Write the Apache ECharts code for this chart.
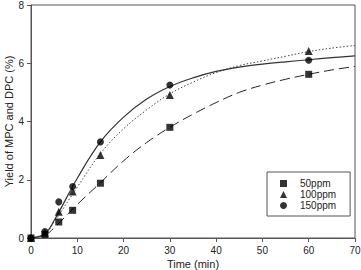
<!DOCTYPE html>
<html>
<head>
<meta charset="utf-8">
<script src="https://cdn.jsdelivr.net/npm/echarts@6/dist/echarts.min.js"></script>
<style>
  html, body { margin: 0; padding: 0; background: #fff; }
  #chart { width: 361px; height: 270px; }
</style>
</head>
<body>
<div id="chart"></div>
<script>
// measured time points (min)
var times = [0, 3, 6, 9, 15, 30, 60];
var ppm50 = [0, 0.12, 0.55, 0.95, 1.88, 3.8, 5.62];
var ppm100 = [0, 0.18, 0.9, 1.6, 2.85, 4.91, 6.42];
var ppm150 = [0, 0.22, 1.24, 1.77, 3.3, 5.25, 6.1];

// fitted curves
var fitTimes = [0, 3, 5, 10, 15, 20, 25, 30, 35, 40, 45, 50, 55, 60, 65, 70];
var fit50 = [0, 0.1, 0.35, 1.15, 1.9, 2.65, 3.28, 3.8, 4.25, 4.65, 5.0, 5.25, 5.45, 5.62, 5.77, 5.89];
var fit100 = [0, 0.15, 0.55, 1.75, 2.9, 3.75, 4.4, 4.95, 5.35, 5.68, 5.92, 6.08, 6.24, 6.4, 6.52, 6.61];
var fit150 = [0, 0.15, 0.6, 2.05, 3.3, 4.15, 4.77, 5.2, 5.5, 5.72, 5.87, 5.97, 6.05, 6.12, 6.19, 6.25];

var names = ['50ppm', '100ppm', '150ppm'];
var xTicks = { min: 0, max: 70, interval: 10 };
var yTicks = { min: 0, max: 8, interval: 2 };

function pairs(xs, ys) {
  return xs.map(function (x, i) { return [x, ys[i]]; });
}

var ink = '#000';
var frame = '#555';
var text = '#222';

var chart = echarts.init(document.getElementById('chart'), null, { renderer: 'svg' });
chart.setOption({
  animation: false,
  grid: {
    left: 31, right: 6, top: 5, bottom: 32,
    containLabel: false, outerBoundsMode: 'none',
    show: true, borderColor: frame, borderWidth: 1
  },
  xAxis: {
    type: 'value',
    min: xTicks.min, max: xTicks.max, interval: xTicks.interval,
    name: 'Time (min)',
    nameLocation: 'middle',
    nameGap: 20,
    nameMoveOverlap: false,
    nameTextStyle: { color: text, fontSize: 11, fontFamily: 'Liberation Sans' },
    axisLine: { lineStyle: { color: frame } },
    axisTick: { length: 4, lineStyle: { color: frame } },
    axisLabel: { color: text, fontSize: 10, fontFamily: 'Liberation Sans', margin: 7 },
    splitLine: { show: false }
  },
  yAxis: {
    type: 'value',
    min: yTicks.min, max: yTicks.max, interval: yTicks.interval,
    name: 'Yield of MPC and DPC (%)',
    nameLocation: 'middle',
    nameGap: 17,
    nameMoveOverlap: false,
    nameTextStyle: { color: text, fontSize: 11, fontFamily: 'Liberation Sans' },
    axisLine: { lineStyle: { color: frame } },
    axisTick: { length: 4, lineStyle: { color: frame } },
    axisLabel: { color: text, fontSize: 10, fontFamily: 'Liberation Sans', margin: 7 },
    splitLine: { show: false }
  },
  legend: {
    orient: 'vertical',
    left: 267,
    top: 172,
    width: 72,
    padding: [6, 14, 5, 13],
    itemGap: 0,
    itemWidth: 7,
    itemHeight: 7,
    borderColor: frame,
    borderWidth: 1,
    textStyle: { color: text, fontSize: 10, lineHeight: 11, fontFamily: 'Liberation Sans', padding: [0, 0, 0, 8] },
    data: [
      { name: names[0], icon: 'rect' },
      { name: names[1], icon: 'triangle' },
      { name: names[2], icon: 'circle' }
    ]
  },
  series: [
    {
      name: 'fit50', type: 'line', smooth: 0.4, showSymbol: false, z: 1,
      data: pairs(fitTimes, fit50),
      lineStyle: { color: '#222', width: 1, type: [10, 5] }
    },
    {
      name: 'fit100', type: 'line', smooth: 0.4, showSymbol: false, z: 1,
      data: pairs(fitTimes, fit100),
      lineStyle: { color: '#444', width: 1, type: [1.5, 2] }
    },
    {
      name: 'fit150', type: 'line', smooth: 0.4, showSymbol: false, z: 1,
      data: pairs(fitTimes, fit150),
      lineStyle: { color: '#333', width: 1.2, type: 'solid' }
    },
    {
      name: names[0], type: 'scatter', symbol: 'rect', symbolSize: 7, z: 3,
      itemStyle: { color: ink },
      data: pairs(times, ppm50)
    },
    {
      name: names[1], type: 'scatter', symbol: 'triangle', symbolSize: 8, z: 3,
      itemStyle: { color: ink },
      data: pairs(times, ppm100)
    },
    {
      name: names[2], type: 'scatter', symbol: 'circle', symbolSize: 7, z: 3,
      itemStyle: { color: ink },
      data: pairs(times, ppm150)
    }
  ]
});
</script>
</body>
</html>
